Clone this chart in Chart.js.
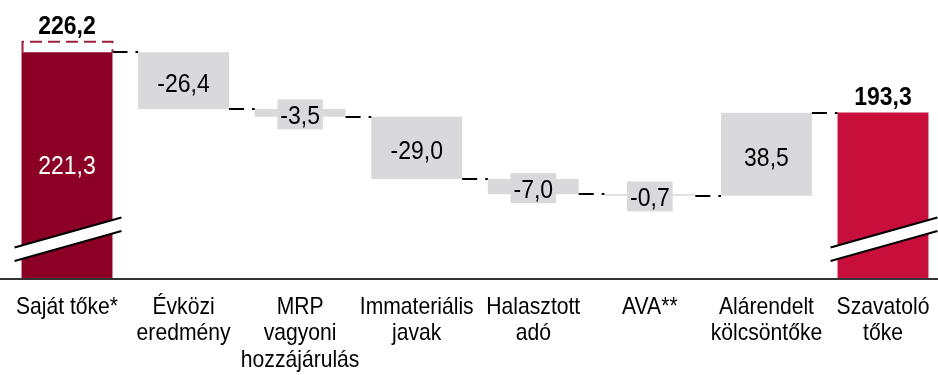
<!DOCTYPE html>
<html>
<head>
<meta charset="utf-8">
<script src="https://cdn.jsdelivr.net/npm/chart.js@4.4.1/dist/chart.umd.min.js"></script>
<style>
  html, body { margin: 0; padding: 0; background: #fff; }
</style>
</head>
<body>
<canvas id="waterfall" width="938" height="375"></canvas>
<script>
// categories (multi-line tick labels)
const categories = [
  'Saját tőke*',
  ['Évközi', 'eredmény'],
  ['MRP', 'vagyoni', 'hozzájárulás'],
  ['Immateriális', 'javak'],
  ['Halasztott', 'adó'],
  'AVA**',
  ['Alárendelt', 'kölcsöntőke'],
  ['Szavatoló', 'tőke']
];

// values
const openingCapital = 221.3;          // Saját tőke* (bar)
const openingCapitalReported = 226.2;  // dashed outline on top
const changes = [-26.4, -3.5, -29.0, -7.0, -0.7, 38.5];
const closingCapital = 193.3;          // Szavatoló tőke

// broken value axis
const axisMin = 116;
const axisMax = 240;

const darkRed = '#8c0026';
const crimson = '#c80f3b';
const grey = '#d9d9db';
const fontFamily = "'Liberation Sans', Arial, sans-serif";

// build the floating bars and the running level after each bar
let level = openingCapital;
const floating = [[axisMin, openingCapital]];
const levels = [openingCapital];
changes.forEach(c => {
  const next = Math.round((level + c) * 10) / 10;
  floating.push([level, next]);
  level = next;
  levels.push(level);
});
floating.push([axisMin, closingCapital]);
levels.push(closingCapital);

const barColors = floating.map((d, i) => i === 0 ? darkRed : (i === floating.length - 1 ? crimson : grey));

function fmt(v) {
  return v.toFixed(1).replace('.', ',');
}

// the original uses a narrow face, so squeeze the text horizontally
function narrowText(ctx, txt, x, y, sx) {
  ctx.save();
  ctx.translate(x, y);
  ctx.scale(sx, 1);
  ctx.fillText(txt, 0, 0);
  ctx.restore();
}

const waterfallExtras = {
  id: 'waterfallExtras',
  afterDatasetsDraw(chart) {
    const ctx = chart.ctx;
    const x = chart.scales.x;
    const y = chart.scales.y;
    const area = chart.chartArea;
    const bars = chart.getDatasetMeta(0).data;
    const last = bars.length - 1;

    ctx.save();

    // connectors between bars
    ctx.strokeStyle = '#000';
    ctx.lineWidth = 2;
    ctx.setLineDash([15, 8]);
    for (let i = 0; i < last; i++) {
      const py = Math.round(y.getPixelForValue(levels[i]));
      ctx.beginPath();
      ctx.moveTo(bars[i].x + bars[i].width / 2, py);
      ctx.lineTo(bars[i + 1].x - bars[i + 1].width / 2, py);
      ctx.stroke();
    }

    // dashed box for the reported opening capital
    const b0 = bars[0];
    const topY = y.getPixelForValue(openingCapitalReported);
    const baseY = y.getPixelForValue(openingCapital);
    ctx.strokeStyle = '#9c1f3c';
    ctx.setLineDash([12, 6]);
    ctx.beginPath();
    ctx.moveTo(b0.x - b0.width / 2 + 1, baseY);
    ctx.lineTo(b0.x - b0.width / 2 + 1, topY);
    ctx.lineTo(b0.x + b0.width / 2, topY);
    ctx.lineTo(b0.x + b0.width / 2, baseY);
    ctx.stroke();
    ctx.setLineDash([]);

    // axis break marks on the first and last bar
    const cy = area.bottom - 39.5;
    const gap = 13.5;
    const slope = 0.28;
    [bars[0], bars[last]].forEach(b => {
      const x0 = b.x - b.width / 2 - 7;
      const x1 = b.x + b.width / 2 + 9;
      const yAt = (px, off) => cy + off + slope * (b.x - px);
      ctx.fillStyle = '#fff';
      ctx.beginPath();
      ctx.moveTo(x0, yAt(x0, -gap / 2));
      ctx.lineTo(x1, yAt(x1, -gap / 2));
      ctx.lineTo(x1, yAt(x1, gap / 2));
      ctx.lineTo(x0, yAt(x0, gap / 2));
      ctx.closePath();
      ctx.fill();
      ctx.strokeStyle = '#000';
      ctx.lineWidth = 2;
      [-gap / 2, gap / 2].forEach(off => {
        ctx.beginPath();
        ctx.moveTo(x0, yAt(x0, off));
        ctx.lineTo(x1, yAt(x1, off));
        ctx.stroke();
      });
    });

    // category axis line across the full width
    ctx.strokeStyle = '#333';
    ctx.lineWidth = 2;
    ctx.beginPath();
    ctx.moveTo(0, area.bottom);
    ctx.lineTo(chart.width, area.bottom);
    ctx.stroke();

    ctx.textAlign = 'center';
    ctx.textBaseline = 'middle';

    // category labels under the axis
    ctx.fillStyle = '#000';
    ctx.font = '24px ' + fontFamily;
    categories.forEach((c, i) => {
      const lines = Array.isArray(c) ? c : [c];
      const px = x.getPixelForTick(i);
      lines.forEach((line, j) => {
        narrowText(ctx, line, px, area.bottom + 28 + j * 26.5, 0.88);
      });
    });

    // opening: white inside, bold total above
    const sx = 0.92;
    ctx.font = '25px ' + fontFamily;
    ctx.fillStyle = '#fff';
    narrowText(ctx, fmt(openingCapital), b0.x, (baseY + area.bottom) / 2 + 1.5, sx);
    ctx.fillStyle = '#000';
    ctx.font = 'bold 25px ' + fontFamily;
    narrowText(ctx, fmt(openingCapitalReported), b0.x, topY - 14.5, sx);
    narrowText(ctx, fmt(closingCapital), bars[last].x, y.getPixelForValue(closingCapital) - 14.5, sx);

    // changes: centred on the bar with a grey box behind
    ctx.font = '25px ' + fontFamily;
    changes.forEach((c, k) => {
      const b = bars[k + 1];
      const my = (y.getPixelForValue(levels[k]) + y.getPixelForValue(levels[k + 1])) / 2;
      const txt = fmt(c);
      const w = ctx.measureText(txt).width * sx + 6;
      ctx.fillStyle = grey;
      ctx.fillRect(b.x - w / 2, my - 13.5, w, 30);
      ctx.fillStyle = '#000';
      narrowText(ctx, txt, b.x, my + 4.5, sx);
    });

    ctx.restore();
  }
};

new Chart(document.getElementById('waterfall').getContext('2d'), {
  type: 'bar',
  data: {
    labels: categories,
    datasets: [{
      data: floating,
      backgroundColor: barColors,
      borderWidth: 0,
      barPercentage: 0.78,
      categoryPercentage: 1,
      clip: false
    }]
  },
  options: {
    responsive: false,
    animation: false,
    layout: { padding: { top: 12, left: 67, right: 55, bottom: 96 } },
    plugins: {
      legend: { display: false },
      tooltip: { enabled: false }
    },
    scales: {
      x: {
        offset: false,
        grid: { display: false, drawTicks: false },
        border: { display: false },
        ticks: { display: false }
      },
      y: {
        display: false,
        min: axisMin,
        max: axisMax
      }
    }
  },
  plugins: [waterfallExtras]
});
</script>
</body>
</html>
